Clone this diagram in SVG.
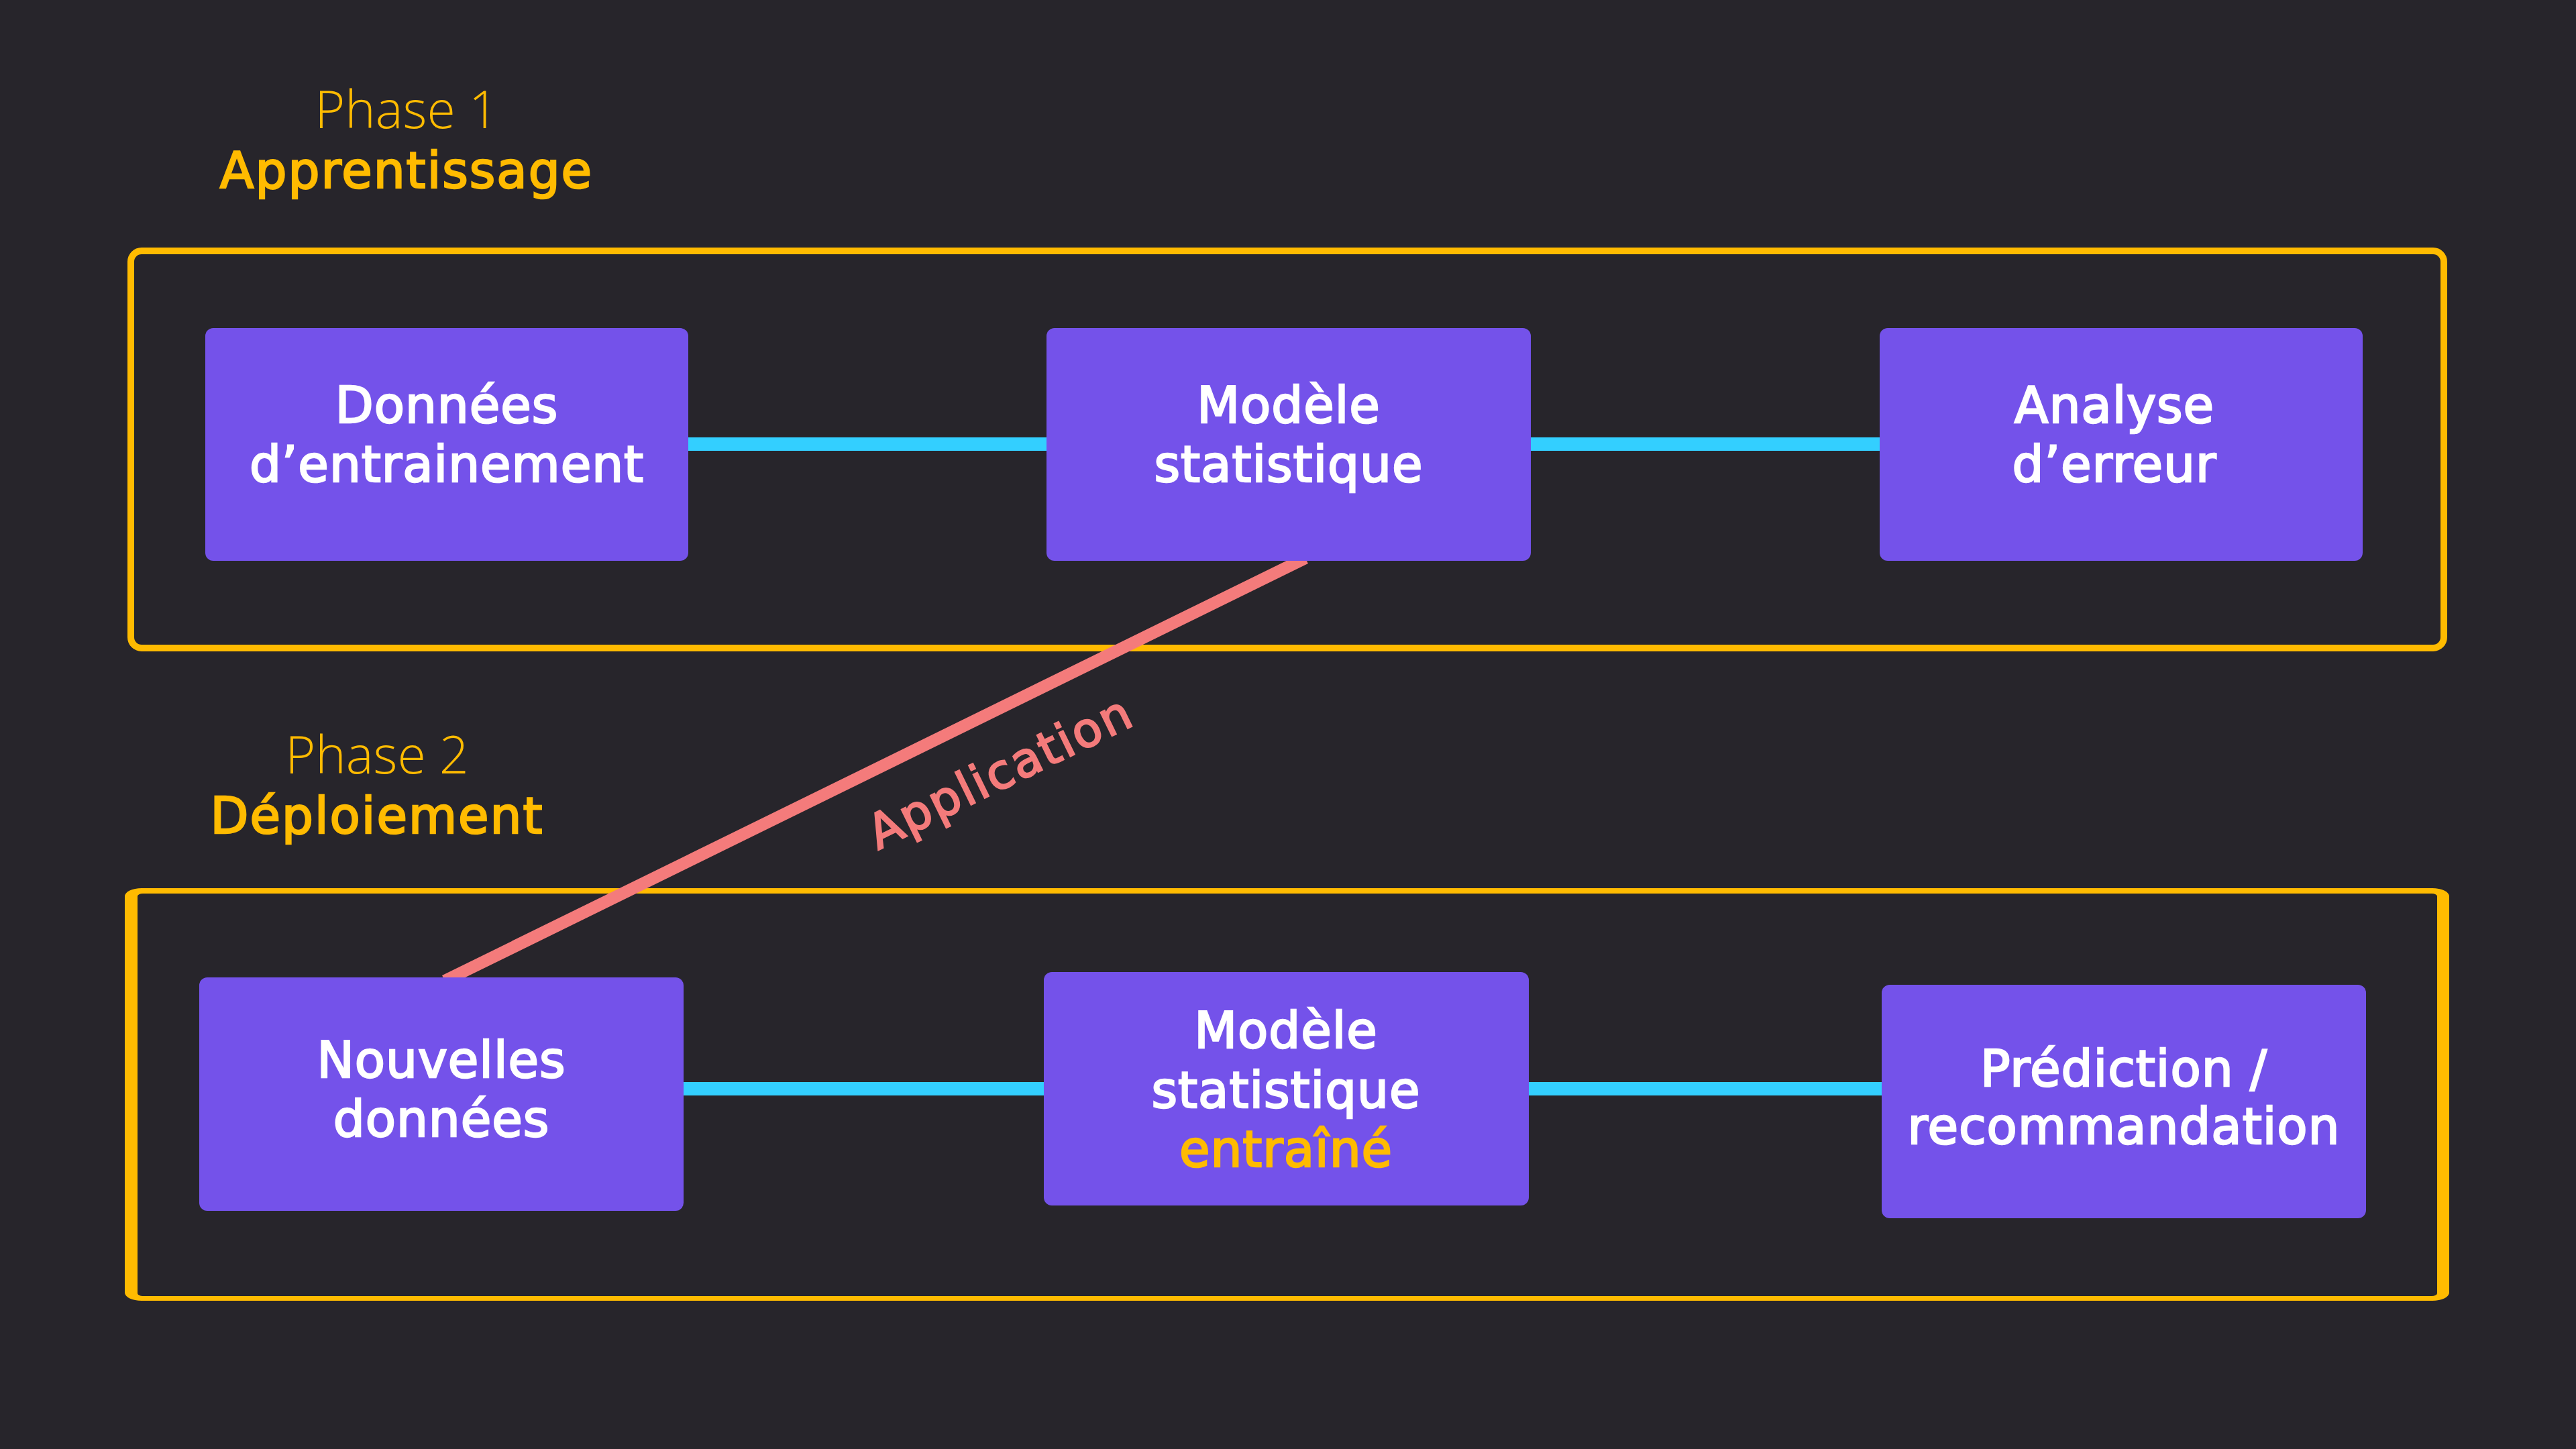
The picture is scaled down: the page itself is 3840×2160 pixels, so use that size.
<svg xmlns="http://www.w3.org/2000/svg" width="3840" height="2160" viewBox="0 0 3840 2160">
<style>
.bg{fill:#27252b}
.phase{fill:none;stroke:#ffbb00;stroke-width:10}
.phase2{fill:#ffbb00;fill-rule:evenodd}
.node{fill:#7452ea}
.link{stroke:#33cfff;stroke-width:20;fill:none}
.app{stroke:#f47b7b;stroke-width:18;fill:none}
.t{font-family:"DejaVu Sans","Liberation Sans",sans-serif;font-size:74px;letter-spacing:1px;fill:#ffffff;stroke:#ffffff;stroke-width:2.5;text-anchor:middle}
.y{fill:#ffbb00;stroke:#ffbb00}
.plight{font-family:"Open Sans","DejaVu Sans",sans-serif;font-weight:300;font-size:77px;fill:#ffbb00;text-anchor:middle}
.pbold{font-family:"DejaVu Sans","Liberation Sans",sans-serif;font-size:74px;letter-spacing:2px;fill:#ffbb00;stroke:#ffbb00;stroke-width:2.5;text-anchor:middle}
.lab{font-family:"DejaVu Sans","Liberation Sans",sans-serif;font-size:71px;letter-spacing:3px;fill:#f47b7b;stroke:#f47b7b;stroke-width:2.5;text-anchor:middle}
</style>
<rect class="bg" x="0" y="0" width="3840" height="2160"/>

<g id="phase1">
<rect class="phase" x="195" y="374" width="3448" height="592" rx="16" ry="16"/>
<text class="plight" x="606" y="191">Phase 1</text>
<text class="pbold" x="606" y="280">Apprentissage</text>
</g>

<g id="phase2">
<path class="phase2" d="M211 1324 H3626 A25 12 0 0 1 3651 1336 V1927 A25 12 0 0 1 3626 1939 H211 A25 12 0 0 1 186 1927 V1336 A25 12 0 0 1 211 1324 Z M213 1332 A8 4 0 0 0 205 1336 V1928 A8 4 0 0 0 213 1932 H3625 A8 4 0 0 0 3633 1928 V1336 A8 4 0 0 0 3625 1332 Z"/>
<text class="plight" x="562" y="1153">Phase 2</text>
<text class="pbold" x="562" y="1242">Déploiement</text>
</g>

<g id="connectors">
<line class="link" x1="1020" y1="662" x2="1566" y2="662"/>
<line class="link" x1="2276" y1="662" x2="2808" y2="662"/>
<line class="link" x1="1013" y1="1623" x2="1562" y2="1623"/>
<line class="link" x1="2273" y1="1623" x2="2811" y2="1623"/>
<line class="app" x1="1946" y1="832" x2="663" y2="1462"/>
<text class="lab" x="1502" y="1173" transform="rotate(-26 1502 1173)">Application</text>
</g>

<g id="n-donnees">
<rect class="node" x="306" y="489" width="720" height="347" rx="12"/>
<text class="t" x="666" y="630">Données</text>
<text class="t" x="666" y="718">d’entrainement</text>
</g>

<g id="n-modele">
<rect class="node" x="1560" y="489" width="722" height="347" rx="12"/>
<text class="t" x="1921" y="630">Modèle</text>
<text class="t" x="1921" y="718">statistique</text>
</g>

<g id="n-analyse">
<rect class="node" x="2802" y="489" width="720" height="347" rx="12"/>
<text class="t" x="3152" y="630">Analyse</text>
<text class="t" x="3152" y="718">d’erreur</text>
</g>

<g id="n-nouvelles">
<rect class="node" x="297" y="1457" width="722" height="348" rx="12"/>
<text class="t" x="658" y="1606">Nouvelles</text>
<text class="t" x="658" y="1694">données</text>
</g>

<g id="n-modele-entraine">
<rect class="node" x="1556" y="1449" width="723" height="348" rx="12"/>
<text class="t" x="1917" y="1562">Modèle</text>
<text class="t" x="1917" y="1651">statistique</text>
<text class="t y" x="1917" y="1739">entraîné</text>
</g>

<g id="n-prediction">
<rect class="node" x="2805" y="1468" width="722" height="348" rx="12"/>
<text class="t" x="3166" y="1619">Prédiction /</text>
<text class="t" x="3166" y="1705">recommandation</text>
</g>
</svg>
